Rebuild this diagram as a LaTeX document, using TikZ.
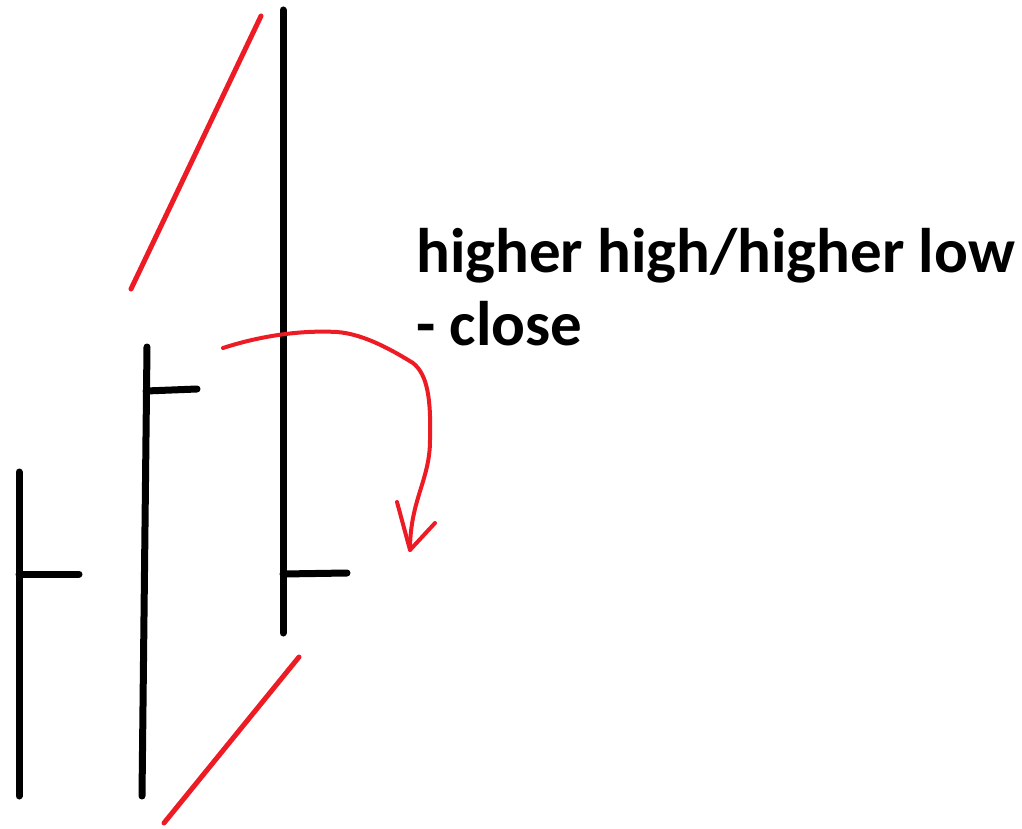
\documentclass[tikz,border=0pt]{standalone}
\usepackage{fontspec}
\setsansfont{Carlito}
\usetikzlibrary{positioning, calc}
\definecolor{paintred}{RGB}{237,28,36}

\begin{document}
\begin{tikzpicture}[
    x=1pt, y=-1pt,
    bar/.style={draw=black, line width=7pt, line cap=round},
    trend/.style={draw=paintred, line width=5pt, line cap=round},
    swing/.style={draw=paintred, line width=4pt, line cap=round, line join=round},
    note/.style={font=\sffamily\bfseries\fontsize{63}{73}\selectfont, align=left, inner sep=0pt},
]
\useasboundingbox (0,0) rectangle (1022,829);

% Bars
\coordinate (b1top) at (19,472);
\coordinate (b1bot) at (19,796);
\coordinate (b1cl) at (19,574);
\coordinate (b1end) at (79,574);
\coordinate (b2top) at (147,347);
\coordinate (b2bot) at (142,796);
\coordinate (b2cl) at (146,391);
\coordinate (b2end) at (197,389);
\coordinate (b3top) at (283,10);
\coordinate (b3bot) at (283,633);
\coordinate (b3cl) at (283,574);
\coordinate (b3end) at (347,573);

\draw[bar] (b1top) -- (b1bot);
\draw[bar] (b1cl) -- (b1end);
\draw[bar] (b2top) -- (b2bot);
\draw[bar] (b2cl) -- (b2end);
\draw[bar] (b3top) -- (b3bot);
\draw[bar] (b3cl) -- (b3end);

% Trend lines
\coordinate (hiA) at (131,289);
\coordinate (hiB) at (261,16);
\coordinate (loA) at (164,823);
\coordinate (loB) at (299,657);
\draw[trend] (hiA) -- (hiB);
\draw[trend] (loA) -- (loB);

% Curved arrow
\coordinate (swA) at (223,348);
\coordinate (swB) at (410,550);
\draw[swing] (swA) .. controls (260,336) and (300,330) .. (337,332)
    .. controls (365,334) and (395,352) .. (413,363)
    .. controls (428,375) and (431,400) .. (430,440)
    .. controls (430,480) and (410,500) .. (swB);
\draw[swing] (397,502) -- (swB) -- (435,523);

% Label
\node[note, anchor=base west] (lbl) at (416,345) {higher high/higher low\\- close};
\end{tikzpicture}
\end{document}
